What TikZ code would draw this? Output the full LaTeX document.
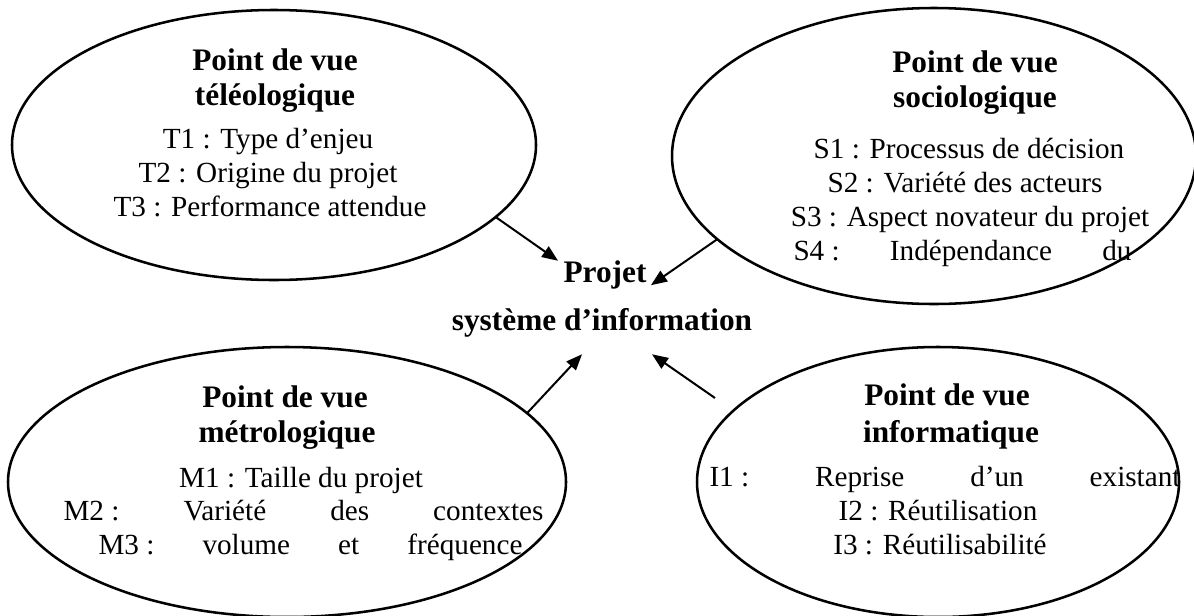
\documentclass[tikz,border=0pt]{standalone}
\usepackage{fontspec}
\setmainfont{Liberation Serif}
\usetikzlibrary{shapes.geometric, arrows.meta}
\tikzset{every picture/.style={line width=0.75pt}}
\tikzset{
  pdv/.style={draw, ellipse, line width=1.9pt, inner sep=0pt, outer sep=0pt},
  titre/.style={anchor=base, inner sep=0pt, font=\fontsize{23.5}{28}\selectfont\bfseries},
  crit/.style={anchor=base, inner sep=0pt, font=\fontsize{21.9}{26}\selectfont},
  fleche/.style={line width=1.5pt, -{Triangle[length=12pt,width=9.5pt]}}
}

\begin{document}
\begin{tikzpicture}[x=0.75pt,y=0.75pt,yscale=-1,xscale=1]
%set diagram to 1194 x 615
\useasboundingbox (0,0) rectangle (1194,615);
\clip (0,0) rectangle (1194,615);

%Shape: Ellipse
\node [pdv, minimum width=393pt, minimum height=202.5pt] (teleo) at (274,145) {};
%Shape: Ellipse
\node [pdv, minimum width=393pt, minimum height=222pt] (socio) at (934,156) {};
%Shape: Ellipse
\node [pdv, minimum width=418.5pt, minimum height=202.5pt] (metro) at (287,482) {};
%Shape: Ellipse
\node [pdv, minimum width=361.5pt, minimum height=202.5pt] (infor) at (938,482) {};

% Text Node
\node [titre] (teleoA) at (275,70) {Point de vue};
\node [titre] (teleoB) at (275,105) {téléologique};
\node [crit] (t1) at (268,148) {T1 : Type d’enjeu};
\node [crit] (t2) at (268,182) {T2 : Origine du projet};
\node [crit] (t3) at (270,216) {T3 : Performance attendue};
% Text Node
\node [titre] (socioA) at (975,72) {Point de vue};
\node [titre] (socioB) at (975,107) {sociologique};
\node [crit] (s1) at (969,158) {S1 : Processus de décision};
\node [crit] (s2) at (965,192) {S2 : Variété des acteurs};
\node [crit] (s3) at (970,226) {S3 : Aspect novateur du projet};
\node [crit, anchor=base west] (s4) at (793,260) {\makebox[253.5pt][l]{S4 :\hfill Indépendance\hfill du}};
% Text Node
\node [titre] (metroA) at (285,407) {Point de vue};
\node [titre] (metroB) at (287,442) {métrologique};
\node [crit] (m1) at (301,487) {M1 : Taille du projet};
\node [crit, anchor=base west] (m2) at (63,520) {\makebox[360pt][l]{M2 :\hfill Variété\hfill des\hfill contextes}};
\node [crit, anchor=base west] (m3) at (98,554) {\makebox[318pt][l]{M3 :\hfill volume\hfill et\hfill fréquence}};
% Text Node
\node [titre] (inforA) at (947,405) {Point de vue};
\node [titre] (inforB) at (951,442) {informatique};
\node [crit, anchor=base west] (i1) at (709,486) {\makebox[353.25pt][l]{I1 :\hfill Reprise\hfill d’un\hfill existant}};
\node [crit] (i2) at (938,520) {I2 : Réutilisation};
\node [crit] (i3) at (940,554) {I3 : Réutilisabilité};
% Text Node
\node [titre] (projet) at (605,282) {Projet};
\node [titre] (sysinfo) at (602,330) {système d’information};

%Straight Lines
\coordinate (depinfo) at (715,398);
\draw [fleche] (teleo.-18) -- ([shift={(-5,1)}]projet.north west);
\draw [fleche] (socio.-159) -- ([shift={(4,-4)}]projet.south east);
\draw [fleche] (metro.16) -- ([shift={(-20,17)}]sysinfo.south);
\draw [fleche] (depinfo) -- ([shift={(50,17)}]sysinfo.south);

\end{tikzpicture}
\end{document}
